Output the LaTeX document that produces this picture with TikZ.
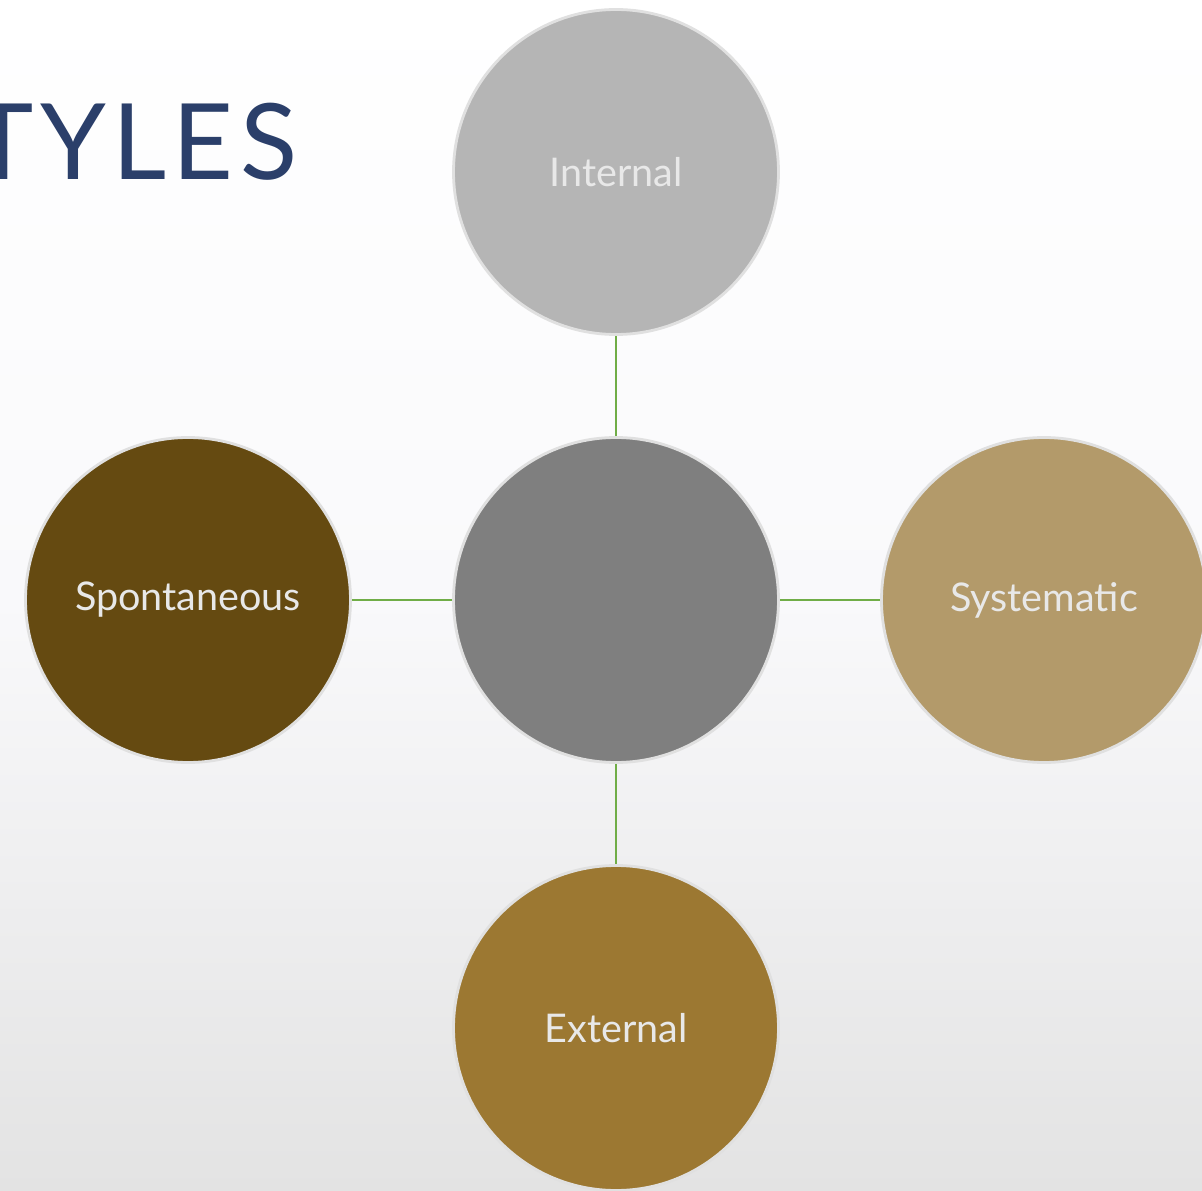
\documentclass[tikz,border=0pt]{standalone}
\usepackage{tikz}
\usetikzlibrary{positioning, arrows}
\usepackage{xcolor}
\usepackage{fontspec}
\setmainfont{Lato}
\newfontfamily\titlefont[LetterSpace=6]{Lato}

\definecolor{titleblue}{HTML}{2B3F6A}
\definecolor{linegreen}{HTML}{70AD47}
\definecolor{ringgray}{HTML}{E0E0E0}
\definecolor{textgray}{HTML}{E8E8E8}
\definecolor{hubgray}{HTML}{7F7F7F}
\definecolor{topgray}{HTML}{B5B5B5}
\definecolor{darkbrown}{HTML}{654A11}
\definecolor{lightbrown}{HTML}{B39A6A}
\definecolor{midbrown}{HTML}{9C7832}
\definecolor{paperhi}{HTML}{FFFFFF}
\definecolor{papermid}{HTML}{F9F9FB}
\definecolor{paperlo}{HTML}{E3E3E3}

\begin{document}
\begin{tikzpicture}[-,shorten >=0pt,node distance=8.56cm,
	scale = 1,transform shape]
	\tikzstyle{every node}=[font=\fontsize{22.5}{27}\selectfont]
	\tikzstyle{bubble}=[circle,draw=ringgray,line width=1.6pt,
		minimum size=6.5cm,inner sep=0pt,text=textgray]
	\tikzstyle{spoke}=[draw=linegreen,line width=1.1pt]
	\useasboundingbox (0,0) rectangle (24.04,-23.82);
	\clip (0,0) rectangle (24.04,-23.82);
	% background
	\shade[top color=paperhi,bottom color=papermid] (0,0) rectangle (24.04,-12.0);
	\shade[top color=papermid,bottom color=paperlo] (0,-12.0) rectangle (24.04,-23.82);
	\node[anchor=base east,text=titleblue,inner sep=0pt,
		font=\titlefont\fontsize{60}{70}\selectfont] (title) at (5.95,-3.6) {TYLES};
	\node[bubble,fill=hubgray] (hub) at (12.32,-12.0) {};
	\node[bubble,fill=topgray] (int) [above of=hub] {Internal};
	\node[bubble,fill=darkbrown] (spo) [left of=hub] {Spontaneous};
	\node[bubble,fill=lightbrown] (sys) [right of=hub] {Systematic};
	\node[bubble,fill=midbrown] (ext) [below of=hub] {External};
	\path[spoke]
	(hub) edge (int)
	(hub) edge (spo)
	(hub) edge (sys)
	(hub) edge (ext);
\end{tikzpicture}
\end{document}
